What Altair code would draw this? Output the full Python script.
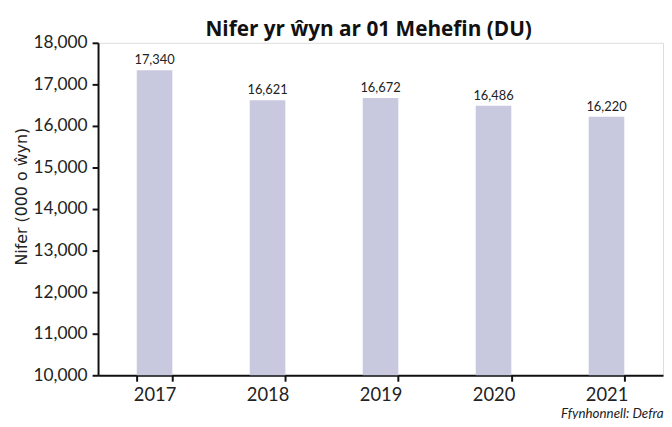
import altair as alt
import pandas as pd

years = ["2017", "2018", "2019", "2020", "2021"]
values = [17340, 16621, 16672, 16486, 16220]
y_ticks = [10000, 11000, 12000, 13000, 14000, 15000, 16000, 17000, 18000]

df = pd.DataFrame({"year": years, "value": values})

FONT = "Lato"

x_enc = alt.X(
    "year:N",
    sort=years,
    scale=alt.Scale(paddingInner=0.685, paddingOuter=0.3425),
    axis=alt.Axis(
        title="Ffynhonnell: Defra",
        titleAnchor="end",
        titleFont=FONT,
        titleFontSize=13.5,
        titleFontStyle="italic",
        titleFontWeight="normal",
        titleColor="#222222",
        titlePadding=3,
        labelAngle=0,
        labelFont=FONT,
        labelFontSize=18.5,
        labelColor="#222222",
        labelPadding=4,
        tickBand="extent",
        tickSize=6,
        tickWidth=2,
        tickColor="#111111",
        domainColor="#111111",
        domainWidth=2,
    ),
)

y_scale = alt.Scale(domain=[10000, 18000], zero=False, nice=False)

base = alt.Chart(df)

bars = base.mark_bar(color="#c8c9df").encode(
    x=x_enc,
    y=alt.Y(
        "value:Q",
        scale=y_scale,
        axis=alt.Axis(
            title="Nifer (000 o ŵyn)",
            titleFont="DejaVu Sans",
            titleFontSize=16,
            titleFontWeight="normal",
            titleColor="#222222",
            titleX=-69,
            titleY=155,
            values=y_ticks,
            format=",.0f",
            labelFont=FONT,
            labelFontSize=17.5,
            labelColor="#222222",
            labelPadding=5,
            tickSize=6,
            tickWidth=2,
            tickColor="#111111",
            domainColor="#111111",
            domainWidth=2,
            grid=False,
        ),
    ),
    y2=alt.datum(10000),
)

labels = base.mark_text(
    baseline="bottom", dy=-3, font=FONT, fontSize=13, color="#222222"
).encode(
    x=alt.X("year:N", sort=years),
    y=alt.Y("value:Q", scale=y_scale),
    text=alt.Text("value:Q", format=",.0f"),
)

chart = (
    alt.layer(bars, labels)
    .properties(
        width=571,
        height=336,
        title=alt.TitleParams(
            "Nifer yr ŵyn ar 01 Mehefin (DU)",
            font="Open Sans",
            fontSize=21,
            fontWeight="bold",
            color="#111111",
            anchor="middle",
            dx=-12,
            offset=-6,
        ),
        autosize=alt.AutoSizeParams(type="none"),
        padding={"left": 91, "top": 33, "right": 1, "bottom": 42},
    )
    .configure_view(stroke=None)
    .configure(background="white")
)

chart.save("out.html", embed_options={"renderer": "svg", "actions": False})
